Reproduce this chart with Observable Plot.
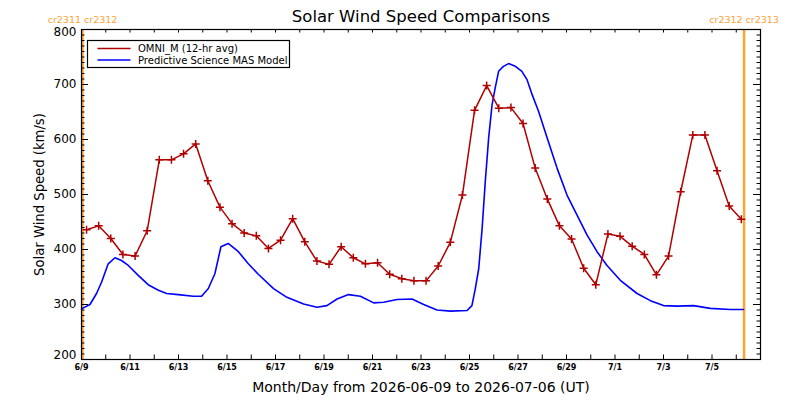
<!DOCTYPE html>
<html><head><meta charset="utf-8">
<script src="https://cdn.jsdelivr.net/npm/d3@7"></script>
<script src="https://cdn.jsdelivr.net/npm/@observablehq/plot@0.6"></script>
<style>body{margin:0;background:#fff;} #chart svg{display:block}</style>
</head><body><div id="chart"></div>
<script>
// ---- data ----
const omniStart = "2026-06-09T05:00:00Z";   // first 12-hr average
const omniStepHours = 12;
const omniSpeed = [436, 443, 420, 391, 388, 434, 563, 563, 574, 592,
  525, 477, 447, 430, 425, 402, 417, 456, 414, 379,
  373, 405, 385, 374, 376, 355, 347, 343, 343, 370,
  413, 499, 653, 698, 657, 658, 629, 548, 492, 443,
  419, 366, 336, 428, 424, 406, 391, 354, 388, 505,
  608, 608, 543, 479, 455];
const masStart = "2026-06-09T00:00:00Z";
const masDay = [0.00, 0.35, 0.62, 0.83, 1.10, 1.38, 1.65, 1.93, 2.34, 2.75,
  3.17, 3.51, 3.99, 4.61, 4.95, 5.23, 5.50, 5.75, 6.05, 6.47,
  6.88, 7.29, 7.92, 8.47, 9.16, 9.71, 10.12, 10.54, 11.01, 11.50,
  12.05, 12.46, 13.01, 13.63, 14.11, 14.66, 15.21, 15.90, 16.10, 16.24,
  16.38, 16.52, 16.65, 16.79, 16.93, 17.06, 17.20, 17.40, 17.61, 17.89,
  18.16, 18.37, 18.58, 18.85, 19.20, 19.61, 20.02, 20.43, 20.85, 21.26,
  21.67, 22.22, 22.91, 23.46, 24.00, 24.56, 25.24, 25.93, 26.75, 27.30];
const masSpeed = [292, 300, 320, 341, 374, 385, 380, 371, 353, 336,
  326, 320, 318, 315, 315, 329, 356, 405, 411, 396,
  374, 355, 329, 313, 301, 295, 298, 310, 318, 315,
  303, 304, 309, 310, 300, 290, 288, 289, 298, 329,
  365, 438, 523, 603, 663, 694, 724, 733, 738, 733,
  724, 709, 682, 651, 603, 548, 499, 463, 426, 396,
  371, 344, 320, 307, 298, 297, 298, 293, 291, 291];
const crBoundaries = ["2026-06-09T01:00:00Z", "2026-07-06T07:45:00Z"];
const crLabels = ["cr2311 cr2312", "cr2312 cr2313"];
const xDomain = ["2026-06-09", "2026-07-07"];
const xTickLabels = ["2026-06-09","2026-06-11","2026-06-13","2026-06-15","2026-06-17",
  "2026-06-19","2026-06-21","2026-06-23","2026-06-25","2026-06-27","2026-06-29",
  "2026-07-01","2026-07-03","2026-07-05"];
const yDomain = [200, 800];
const yMajor = [200, 300, 400, 500, 600, 700, 800];
const seriesNames = ["OMNI_M (12-hr avg)", "Predictive Science MAS Model"];
const seriesColors = ["#b00000", "#0000ff"];
const titleText = "Solar Wind Speed Comparisons";
const xLabelText = "Month/Day from 2026-06-09 to 2026-07-06 (UT)";
const yLabelText = "Solar Wind Speed (km/s)";
const orange = "#ffa333";

// ---- build tables ----
const t0 = new Date(omniStart);
const omni = omniSpeed.map((v, i) => ({t: new Date(+t0 + i * omniStepHours * 3600e3), v}));
const m0 = new Date(masStart);
const mas = masDay.map((d, i) => ({t: new Date(+m0 + d * 86400e3), v: masSpeed[i]}));
const days = d3.utcDay.range(new Date(xDomain[0]), d3.utcDay.offset(new Date(xDomain[1]), 1));
const yMinor = d3.range(yDomain[0], yDomain[1] + 1, 10);
const yInner = yMajor.slice(1, -1);

const W = 800, H = 400, mL = 81, mR = 40, mT = 29, mB = 41;
const fw = W - mL - mR, fh = H - mT - mB;
const font = "DejaVu Sans";

const chart = Plot.plot({
  width: W, height: H,
  marginLeft: mL, marginRight: mR, marginTop: mT, marginBottom: mB,
  style: {background: "white", fontFamily: font, color: "black"},
  x: {type: "utc", domain: xDomain.map(d => new Date(d))},
  y: {domain: yDomain},
  marks: [
    // orange CR boundary lines
    Plot.ruleX(crBoundaries.map(d => new Date(d)), {stroke: orange, strokeWidth: 2.5}),
    // data
    Plot.line(mas, {x: "t", y: "v", stroke: seriesColors[1], strokeWidth: 1.6}),
    Plot.line(omni, {x: "t", y: "v", stroke: seriesColors[0], strokeWidth: 1.5}),
    Plot.dot(omni, {x: "t", y: "v", symbol: "plus", r: 2.7, stroke: seriesColors[0], strokeWidth: 1.5}),
    // frame
    Plot.frame({stroke: "black", strokeWidth: 1.2}),
    // inward ticks, y left & right
    Plot.tickY(yMinor, {y: d => d, insetRight: fw - 3.5, stroke: "black"}),
    Plot.tickY(yMinor, {y: d => d, insetLeft: fw - 3.5, stroke: "black"}),
    Plot.tickY(yMajor, {y: d => d, insetRight: fw - 7, stroke: "black"}),
    Plot.tickY(yMajor, {y: d => d, insetLeft: fw - 7, stroke: "black"}),
    // inward ticks, x bottom & top
    Plot.tickX(days, {x: d => d, insetTop: fh - 4.5, stroke: "black"}),
    Plot.tickX(days, {x: d => d, insetBottom: fh - 3.5, stroke: "black"}),
    // y tick labels (end labels kept inside the frame's extent)
    Plot.axisY(yInner, {tickSize: 0, tickPadding: 5, fontSize: 12, label: null}),
    Plot.axisY([yMajor[yMajor.length - 1]], {tickSize: 0, tickPadding: 5, fontSize: 12, label: null, dy: 3}),
    Plot.axisY([yMajor[0]], {tickSize: 0, tickPadding: 5, fontSize: 12, label: null, dy: -4}),
    Plot.axisX(xTickLabels.map(d => new Date(d)), {tickSize: 0, tickPadding: 5, fontSize: 8, fontWeight: "bold",
      tickFormat: d3.utcFormat("%-m/%-d"), label: null}),
    // texts
    Plot.text([titleText], {frameAnchor: "top", lineAnchor: "middle", textAnchor: "middle", dy: -12.6, fontSize: 16.5}),
    Plot.text([xLabelText], {frameAnchor: "bottom", lineAnchor: "middle", textAnchor: "middle", dy: 28, fontSize: 14}),
    Plot.text([yLabelText], {frameAnchor: "left", lineAnchor: "middle", textAnchor: "middle", dx: -42, rotate: -90, fontSize: 13.2}),
    Plot.text(crLabels, {x: crBoundaries.map(d => new Date(d)), text: d => d, frameAnchor: "top",
      lineAnchor: "middle", textAnchor: "middle", dy: -9.5, fill: orange, fontSize: 9.5})
  ]
});
document.getElementById("chart").append(chart);

// legend box (inside the frame, top-left)
const svg = d3.select(chart);
const lg = svg.append("g").attr("font-family", font).attr("font-size", 10).attr("text-anchor", "start");
lg.append("rect").attr("x", 87.5).attr("y", 40.5).attr("width", 202).attr("height", 27)
  .attr("fill", "white").attr("stroke", "black").attr("stroke-width", 1.2);
seriesNames.forEach((name, i) => {
  const yy = 48.5 + i * 11.5;
  lg.append("line").attr("x1", 97.5).attr("x2", 130.5).attr("y1", yy).attr("y2", yy)
    .attr("stroke", seriesColors[i]).attr("stroke-width", 1.6);
  lg.append("text").attr("x", 138).attr("y", yy).attr("dy", "0.35em").attr("fill", "black").text(name);
});
</script>
</body></html>
